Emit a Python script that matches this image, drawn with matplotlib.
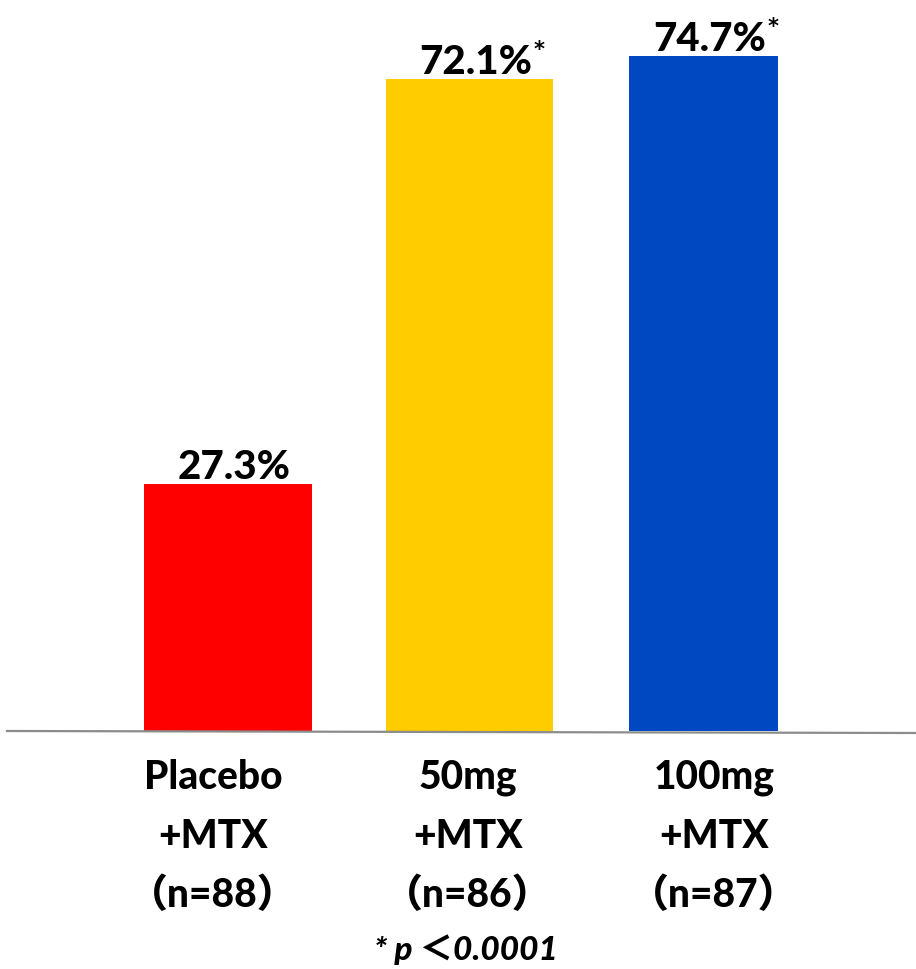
import matplotlib
matplotlib.use("Agg")
import matplotlib.pyplot as plt
from matplotlib.transforms import offset_copy

# Response rates per treatment arm
groups = ["Placebo", "50mg", "100mg"]
arm_suffix = ["+MTX", "+MTX", "+MTX"]
n_counts = [88, 86, 87]
rates = [27.3, 72.1, 74.7]
significant = [False, True, True]
footnote = "* p ＜0.0001"

# Layout (pixels on a 916x969 canvas)
W, H = 916, 969
bar_x = [228, 469.5, 703.5]
bar_w = [168, 167, 149]
label_x = [213, 468, 714]
bar_colors = ["#FF0000", "#FFCC00", "#0048C2"]
px_per_unit = 9.04
base_px = 731  # baseline, from top

fam = ["Lato", "Noto Sans CJK JP", "DejaVu Sans"]
plt.rcParams["font.family"] = fam

fig = plt.figure(figsize=(W / 100, H / 100), dpi=100)
ax = fig.add_axes([0, (H - base_px) / H, 1, base_px / H])
ax.set_xlim(0, W)
ax.set_ylim(0, base_px / px_per_unit)
ax.axis("off")

ax.bar(bar_x, rates, width=bar_w, color=bar_colors, zorder=2)

# Baseline
fig.add_artist(plt.Line2D([7 / W, 1], [(H - base_px) / H, (H - base_px - 2) / H],
                          color="#8c8c8c", lw=1.6, transform=fig.transFigure))

# Value labels above bars
for x, r, sig in zip(bar_x, rates, significant):
    tr = offset_copy(ax.transData, fig=fig, x=6, y=5, units="dots")
    t = ax.text(x, r, f"{r:.1f}%", ha="center", va="baseline",
                fontsize=29, fontweight="black", color="black", transform=tr)
    if sig:
        ax.annotate("*", xy=(1, 1), xycoords=t, xytext=(1, 3),
                    textcoords="offset points", ha="left", va="top",
                    fontsize=15, fontweight="bold", color="black",
                    family="DejaVu Sans")

# Category labels below the baseline
line_y = [789, 848, 907]
for x, g, s, n in zip(label_x, groups, arm_suffix, n_counts):
    for yy, txt in zip(line_y, [g, s, f"（n={n}）"]):
        fig.text(x / W, 1 - yy / H, txt, ha="center", va="baseline",
                 fontsize=28, fontweight="black", color="black", family=fam)

fig.text(466 / W, 1 - 960 / H, footnote, ha="center", va="baseline",
         fontsize=24, fontweight="black", style="italic", color="black", family=fam)

fig.savefig("out.png", dpi=100, facecolor="white")
